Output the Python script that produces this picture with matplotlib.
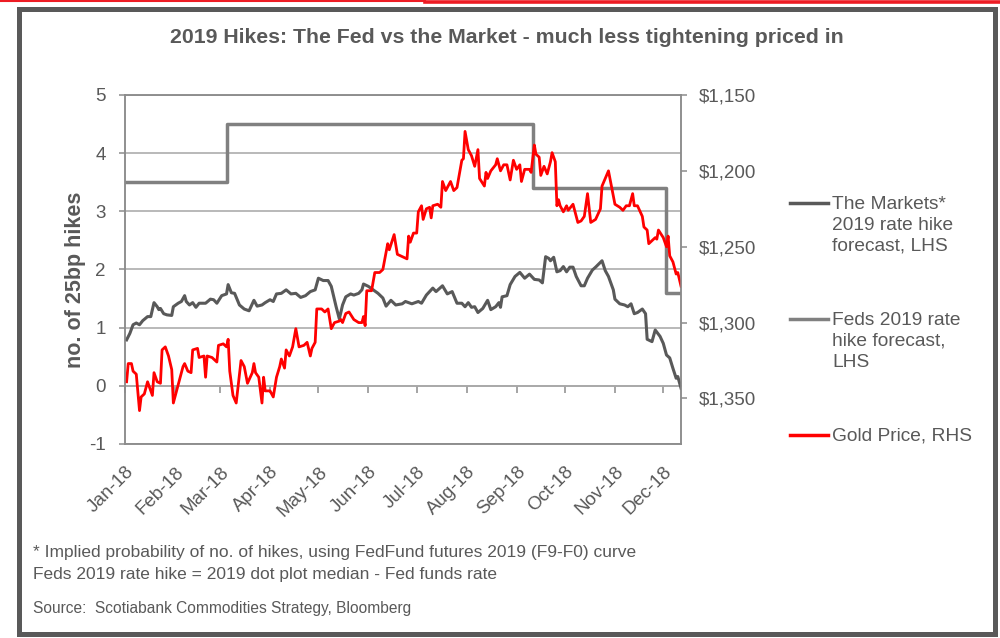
import numpy as np
import matplotlib
matplotlib.use('Agg')
import matplotlib.pyplot as plt
from matplotlib.lines import Line2D
from matplotlib.patches import Rectangle

plt.rcParams['font.family'] = ['Liberation Sans', 'DejaVu Sans']
plt.rcParams['axes.unicode_minus'] = False

# x values are days since 1 Jan 2018
month_days = [0, 31, 59, 90, 120, 151, 181, 212, 243, 273, 304, 334]
month_labels = ['Jan-18', 'Feb-18', 'Mar-18', 'Apr-18', 'May-18', 'Jun-18',
                'Jul-18', 'Aug-18', 'Sep-18', 'Oct-18', 'Nov-18', 'Dec-18']

# The Markets* 2019 rate hike forecast (LHS)
mkt_days = [1, 3, 5, 7, 9, 11, 14, 16, 18, 20, 21, 22, 24, 26, 29, 30, 33, 35, 37, 38,
            40, 42, 44, 46, 50, 53, 55, 57, 60, 63, 64, 66, 68, 71, 74, 77, 80, 82, 85, 87,
            90, 92, 94, 97, 100, 103, 106, 109, 112, 115, 118, 120, 123, 126, 128, 131, 133, 135, 137, 140,
            142, 145, 147, 148, 151, 154, 157, 160, 162, 165, 168, 172, 174, 178, 182, 184, 187, 191, 193, 197,
            200, 203, 206, 209, 211, 213, 215, 217, 219, 222, 225, 227, 230, 232, 233, 234, 237, 239, 242, 245,
            248, 251, 254, 257, 259, 261, 263, 264, 266, 268, 270, 272, 274, 276, 278, 280, 283, 285, 287, 290,
            292, 296, 298, 300, 303, 304, 307, 310, 312, 314, 316, 318, 321, 323, 324, 327, 329, 332, 334, 336,
            338, 340, 342, 343, 345]
mkt_vals = [0.79, 0.90, 1.05, 1.08, 1.05, 1.12, 1.19, 1.19, 1.43, 1.36, 1.31, 1.33, 1.24, 1.22, 1.21, 1.36, 1.42, 1.45, 1.55, 1.45,
            1.39, 1.43, 1.35, 1.42, 1.42, 1.49, 1.48, 1.42, 1.55, 1.58, 1.74, 1.60, 1.59, 1.39, 1.32, 1.29, 1.47, 1.37, 1.39, 1.43,
            1.48, 1.45, 1.58, 1.59, 1.65, 1.58, 1.59, 1.52, 1.55, 1.62, 1.65, 1.85, 1.81, 1.81, 1.71, 1.36, 1.15, 1.39, 1.53, 1.58,
            1.56, 1.59, 1.65, 1.75, 1.71, 1.65, 1.59, 1.51, 1.37, 1.47, 1.39, 1.41, 1.45, 1.41, 1.45, 1.42, 1.56, 1.68, 1.62, 1.72,
            1.58, 1.62, 1.42, 1.42, 1.36, 1.43, 1.35, 1.36, 1.26, 1.33, 1.47, 1.31, 1.36, 1.43, 1.35, 1.53, 1.55, 1.74, 1.88, 1.95,
            1.85, 1.92, 1.83, 1.82, 1.77, 2.22, 2.19, 2.15, 2.21, 1.96, 1.98, 2.05, 1.96, 2.04, 2.04, 1.88, 1.72, 1.72, 1.85, 1.99,
            2.04, 2.15, 1.98, 1.88, 1.65, 1.49, 1.41, 1.39, 1.36, 1.41, 1.24, 1.26, 1.32, 1.24, 0.80, 0.76, 0.96, 0.85, 0.73, 0.53,
            0.48, 0.30, 0.13, 0.16, -0.04]

# Feds 2019 rate hike forecast (LHS), step series
fed_days = [0, 63, 253, 336, 345]
fed_vals = [3.5, 4.5, 3.4, 1.6, 1.6]

# Gold price (RHS, inverted)
gold_days = [1, 2, 4, 5, 7, 9, 10, 12, 14, 17, 18, 20, 22, 23, 25, 27, 29, 30, 33, 36,
             37, 39, 41, 42, 45, 46, 49, 50, 51, 54, 57, 58, 61, 63, 64, 65, 67, 69, 72, 74,
             76, 79, 80, 81, 83, 85, 86, 87, 90, 92, 94, 96, 97, 99, 100, 102, 104, 106, 108, 111,
             113, 115, 116, 118, 119, 122, 124, 126, 128, 130, 133, 134, 135, 137, 139, 142, 145, 147, 148, 149,
             150, 153, 155, 158, 160, 163, 164, 167, 169, 171, 173, 175, 176, 177, 179, 181, 182, 184, 185, 187,
             189, 190, 191, 194, 196, 197, 199, 202, 204, 206, 209, 210, 211, 213, 215, 217, 219, 220, 223, 224,
             225, 227, 230, 231, 233, 235, 237, 239, 241, 243, 245, 246, 248, 251, 252, 254, 255, 257, 258, 260,
             262, 264, 265, 267, 268, 269, 270, 272, 274, 275, 278, 281, 283, 285, 287, 289, 292, 295, 296, 300,
             302, 304, 307, 309, 311, 313, 315, 316, 318, 321, 322, 324, 325, 327, 329, 330, 331, 334, 336, 337,
             338, 340, 342, 343, 345]
gold_vals = [1339, 1327, 1327, 1332, 1334, 1358, 1349, 1347, 1339, 1348, 1333, 1339, 1340, 1318, 1316, 1322, 1331, 1353, 1341, 1329,
             1327, 1332, 1333, 1318, 1317, 1323, 1322, 1336, 1322, 1323, 1326, 1315, 1314, 1316, 1311, 1332, 1348, 1353, 1325, 1329,
             1340, 1333, 1327, 1333, 1336, 1353, 1336, 1345, 1345, 1349, 1336, 1329, 1324, 1330, 1318, 1322, 1316, 1304, 1316, 1315,
             1313, 1322, 1317, 1313, 1291, 1291, 1293, 1291, 1304, 1300, 1299, 1298, 1300, 1294, 1293, 1298, 1300, 1300, 1296, 1302,
             1279, 1279, 1267, 1267, 1265, 1248, 1252, 1242, 1255, 1256, 1257, 1258, 1243, 1247, 1241, 1241, 1227, 1223, 1232, 1225,
             1224, 1231, 1223, 1222, 1224, 1207, 1213, 1207, 1213, 1211, 1193, 1192, 1174, 1186, 1190, 1197, 1186, 1205, 1210, 1201,
             1205, 1200, 1196, 1192, 1200, 1196, 1196, 1206, 1193, 1199, 1196, 1207, 1199, 1199, 1201, 1183, 1189, 1191, 1203, 1197,
             1202, 1194, 1188, 1194, 1223, 1219, 1223, 1227, 1223, 1226, 1222, 1234, 1233, 1230, 1215, 1234, 1232, 1225, 1210, 1200,
             1211, 1222, 1224, 1226, 1223, 1223, 1215, 1223, 1223, 1230, 1237, 1239, 1248, 1246, 1244, 1245, 1239, 1244, 1250, 1243,
             1256, 1260, 1268, 1267, 1276]

txt = '#595959'
gridc = '#a6a6a6'
spc = '#8c8c8c'

fig = plt.figure(figsize=(10, 6.38), dpi=100)
ax = fig.add_axes([0.125, 0.3041, 0.556, 0.547])
ax2 = ax.twinx()

ax.plot(mkt_days, mkt_vals, color='#595959', lw=2.2, zorder=3)
ax.plot(fed_days, fed_vals, color='#808080', lw=2.5, drawstyle='steps-post', zorder=3)
ax2.plot(gold_days, gold_vals, color='#ff0000', lw=2.0)

ax.set_xlim(0, 345)
ax.set_ylim(-1, 5)
ax.set_yticks(range(-1, 6))
ax.grid(axis='y', color=gridc, lw=1.1)
ax.set_axisbelow(True)
ax2.set_ylim(1380, 1150)
ax2.set_yticks([1150, 1200, 1250, 1300, 1350])
ax2.set_yticklabels(['$1,150', '$1,200', '$1,250', '$1,300', '$1,350'])

ax.set_xticks(month_days)
ax.set_xticklabels(month_labels, rotation=45, ha='right', rotation_mode='anchor')
ax.tick_params(axis='x', length=0, pad=14, labelsize=13.5, labelcolor=txt)
ax.tick_params(axis='y', length=4, width=1.1, color=spc, pad=10, labelsize=13.5, labelcolor=txt)
ax2.tick_params(axis='y', length=4, width=1.1, color=spc, pad=9, labelsize=13.5, labelcolor=txt)

# x axis crossing at zero with outward tick marks
sec = ax.secondary_xaxis(1 / 6)
sec.set_xticks(month_days)
sec.tick_params(axis='x', direction='out', length=5, width=1.1, color=spc, labelbottom=False)
sec.spines['bottom'].set_color(gridc)
sec.spines['bottom'].set_linewidth(1.1)

for a in (ax, ax2):
    for s in a.spines.values():
        s.set_color(spc)
        s.set_linewidth(1.1)

ax.set_ylabel('no. of 25bp hikes', fontsize=15.5, fontweight='bold', color=txt, labelpad=1)
ax.yaxis.set_label_coords(-0.07, 0.47)

fig.text(0.507, 0.941, '2019 Hikes: The Fed vs the Market - much less tightening priced in',
         ha='center', va='center', fontsize=15.3, fontweight='bold', color=txt)

# legend drawn at the right
leg = [('The Markets*\n2019 rate hike\nforecast, LHS', '#595959', 203),
       ('Feds 2019 rate\nhike forecast,\nLHS', '#808080', 319),
       ('Gold Price, RHS', '#ff0000', 435)]
for label, col, ypix in leg:
    yf = 1 - ypix / 638
    fig.add_artist(Line2D([0.790, 0.828], [yf, yf], color=col, lw=2.5))
    fig.text(0.832, yf + 0.011, label, ha='left', va='top', fontsize=13.8,
             color=txt, linespacing=1.3)

fig.text(0.033, 1 - 553 / 638,
         '* Implied probability of no. of hikes, using FedFund futures 2019 (F9-F0) curve',
         ha='left', va='center', fontsize=12.5, color=txt)
fig.text(0.033, 1 - 575 / 638, 'Feds 2019 rate hike = 2019 dot plot median - Fed funds rate',
         ha='left', va='center', fontsize=12.5, color=txt)
fig.text(0.033, 1 - 608 / 638, 'Source:  Scotiabank Commodities Strategy, Bloomberg',
         ha='left', va='center', fontsize=11.2, color=txt)

# outer frame and top red rule
fig.add_artist(Rectangle((19 / 1000, 1 - 634 / 638), 975.5 / 1000, 625 / 638,
                         transform=fig.transFigure, fill=False, ec='#595959', lw=3.6))
fig.add_artist(Line2D([0, 0.425], [1 - 1 / 638, 1 - 1 / 638], color='#ed1c24', lw=1.5))
fig.add_artist(Line2D([0.425, 1], [1 - 1.7 / 638, 1 - 1.7 / 638], color='#ed1c24', lw=2.6))

fig.savefig('out.png', dpi=100)
